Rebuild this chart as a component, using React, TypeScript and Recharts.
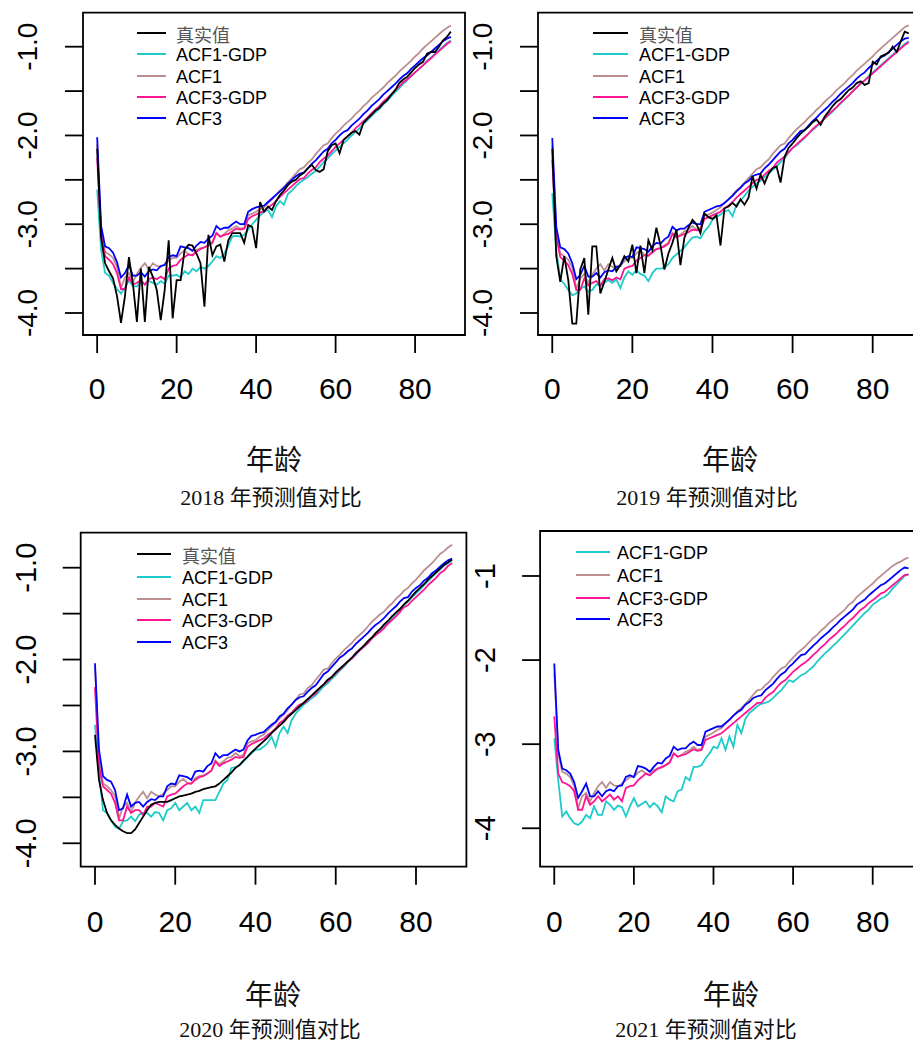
import React from 'react';
import { LineChart, Line, XAxis, YAxis, ReferenceArea } from 'recharts';

// ages 0..89
const ages = [
  0, 1, 2, 3, 4, 5, 6, 7, 8, 9, 10, 11, 12, 13, 14, 15, 16, 17, 18, 19,
  20, 21, 22, 23, 24, 25, 26, 27, 28, 29, 30, 31, 32, 33, 34, 35, 36, 37, 38, 39,
  40, 41, 42, 43, 44, 45, 46, 47, 48, 49, 50, 51, 52, 53, 54, 55, 56, 57, 58, 59,
  60, 61, 62, 63, 64, 65, 66, 67, 68, 69, 70, 71, 72, 73, 74, 75, 76, 77, 78, 79,
  80, 81, 82, 83, 84, 85, 86, 87, 88, 89,
];
const xTicks = [0, 20, 40, 60, 80];

// ---- 2018 ----
const truth2018 = [
  -2.15, -3.15, -3.44, -3.53, -3.61, -3.81, -4.11, -3.81, -3.37, -3.67,
  -4.10, -3.50, -4.10, -3.48, -3.59, -3.74, -4.08, -3.74, -3.18, -4.06,
  -3.63, -3.63, -3.29, -3.23, -3.24, -3.33, -3.44, -3.93, -3.12, -3.35,
  -3.25, -3.23, -3.42, -3.18, -3.10, -3.10, -3.10, -3.21, -3.01, -3.03,
  -3.27, -2.75, -2.86, -2.80, -2.84, -2.74, -2.67, -2.62, -2.56, -2.52,
  -2.50, -2.45, -2.42, -2.37, -2.33, -2.39, -2.41, -2.38, -2.18, -2.11,
  -2.09, -2.20, -2.05, -2.01, -1.97, -1.95, -1.99, -1.86, -1.81, -1.77,
  -1.72, -1.69, -1.64, -1.60, -1.54, -1.49, -1.41, -1.37, -1.34, -1.29,
  -1.24, -1.20, -1.17, -1.08, -1.06, -1.06, -1.00, -0.93, -0.89, -0.83,
];
const acf1gdp2018 = [
  -2.61, -3.29, -3.55, -3.58, -3.66, -3.73, -3.78, -3.72, -3.63, -3.70,
  -3.70, -3.64, -3.68, -3.64, -3.66, -3.68, -3.64, -3.67, -3.58, -3.58,
  -3.57, -3.60, -3.53, -3.56, -3.50, -3.53, -3.48, -3.50, -3.47, -3.42,
  -3.36, -3.38, -3.33, -3.24, -3.14, -3.13, -3.14, -3.12, -3.06, -3.00,
  -2.95, -2.90, -2.86, -2.84, -2.92, -2.80, -2.74, -2.78, -2.66, -2.62,
  -2.57, -2.53, -2.50, -2.47, -2.43, -2.40, -2.35, -2.30, -2.26, -2.21,
  -2.17, -2.13, -2.09, -2.05, -2.00, -1.96, -1.92, -1.87, -1.83, -1.78,
  -1.74, -1.70, -1.65, -1.61, -1.56, -1.51, -1.47, -1.42, -1.38, -1.33,
  -1.29, -1.25, -1.21, -1.16, -1.12, -1.08, -1.04, -1.00, -0.96, -0.93,
];
const acf12018 = [
  -2.10, -3.07, -3.31, -3.34, -3.38, -3.48, -3.72, -3.60, -3.55, -3.65,
  -3.56, -3.49, -3.44, -3.51, -3.44, -3.47, -3.48, -3.45, -3.41, -3.38,
  -3.38, -3.33, -3.30, -3.34, -3.35, -3.29, -3.27, -3.26, -3.23, -3.20,
  -3.10, -3.14, -3.11, -3.07, -3.05, -3.02, -3.05, -3.04, -2.90, -2.88,
  -2.86, -2.83, -2.81, -2.76, -2.72, -2.67, -2.62, -2.58, -2.53, -2.48,
  -2.43, -2.38, -2.36, -2.31, -2.27, -2.21, -2.16, -2.11, -2.09, -2.03,
  -1.98, -1.94, -1.89, -1.85, -1.81, -1.76, -1.72, -1.67, -1.63, -1.58,
  -1.54, -1.50, -1.46, -1.41, -1.37, -1.33, -1.28, -1.24, -1.20, -1.16,
  -1.11, -1.07, -1.02, -0.98, -0.94, -0.90, -0.86, -0.82, -0.79, -0.76,
];
const acf3gdp2018 = [
  -2.25, -3.12, -3.36, -3.40, -3.45, -3.55, -3.73, -3.73, -3.60, -3.68,
  -3.66, -3.63, -3.68, -3.62, -3.60, -3.62, -3.59, -3.62, -3.50, -3.47,
  -3.46, -3.40, -3.37, -3.34, -3.35, -3.31, -3.28, -3.26, -3.24, -3.21,
  -3.10, -3.14, -3.12, -3.11, -3.08, -3.05, -3.06, -3.05, -2.94, -2.91,
  -2.89, -2.87, -2.85, -2.81, -2.78, -2.74, -2.69, -2.65, -2.61, -2.57,
  -2.53, -2.49, -2.48, -2.43, -2.39, -2.36, -2.30, -2.26, -2.23, -2.18,
  -2.13, -2.09, -2.05, -2.01, -1.97, -1.92, -1.88, -1.84, -1.80, -1.75,
  -1.71, -1.67, -1.62, -1.58, -1.54, -1.49, -1.45, -1.40, -1.37, -1.33,
  -1.29, -1.25, -1.21, -1.17, -1.13, -1.09, -1.05, -1.01, -0.97, -0.94,
];
const acf32018 = [
  -2.02, -3.02, -3.25, -3.27, -3.32, -3.43, -3.60, -3.55, -3.46, -3.58,
  -3.58, -3.54, -3.59, -3.53, -3.51, -3.52, -3.47, -3.46, -3.37, -3.35,
  -3.36, -3.25, -3.26, -3.27, -3.30, -3.24, -3.20, -3.21, -3.16, -3.13,
  -3.02, -3.06, -3.04, -3.04, -3.00, -2.97, -3.00, -3.00, -2.86, -2.83,
  -2.81, -2.80, -2.79, -2.75, -2.71, -2.67, -2.63, -2.59, -2.54, -2.50,
  -2.46, -2.43, -2.42, -2.37, -2.32, -2.28, -2.23, -2.18, -2.15, -2.09,
  -2.05, -2.00, -1.96, -1.94, -1.89, -1.85, -1.81, -1.76, -1.72, -1.67,
  -1.63, -1.59, -1.54, -1.50, -1.46, -1.42, -1.37, -1.33, -1.30, -1.25,
  -1.21, -1.17, -1.13, -1.10, -1.06, -1.02, -0.98, -0.94, -0.91, -0.89,
];

// ---- 2019 ----
const truth2019 = [
  -2.15, -3.36, -3.65, -3.36, -3.63, -4.12, -4.12, -3.51, -3.38, -4.02,
  -3.25, -3.25, -3.78, -3.65, -3.51, -3.38, -3.53, -3.46, -3.36, -3.42,
  -3.23, -3.55, -3.24, -3.55, -3.18, -3.29, -3.04, -3.23, -3.51, -3.33,
  -3.21, -3.06, -3.46, -3.15, -3.04, -2.95, -3.00, -3.10, -2.88, -2.92,
  -2.94, -2.90, -3.24, -2.82, -2.80, -2.76, -2.80, -2.72, -2.78, -2.70,
  -2.46, -2.60, -2.44, -2.54, -2.43, -2.37, -2.35, -2.53, -2.24, -2.14,
  -2.09, -2.03, -1.98, -1.94, -1.90, -1.85, -1.82, -1.88, -1.79, -1.73,
  -1.67, -1.62, -1.59, -1.54, -1.49, -1.46, -1.41, -1.39, -1.43, -1.41,
  -1.17, -1.20, -1.11, -1.09, -1.07, -1.00, -1.06, -0.94, -0.83, -0.85,
];
const acf1gdp2019 = [
  -2.65, -3.29, -3.62, -3.67, -3.74, -3.80, -3.78, -3.73, -3.70, -3.76,
  -3.74, -3.68, -3.69, -3.66, -3.63, -3.66, -3.62, -3.72, -3.60, -3.53,
  -3.57, -3.52, -3.56, -3.58, -3.64, -3.55, -3.50, -3.50, -3.49, -3.45,
  -3.38, -3.34, -3.30, -3.26, -3.20, -3.15, -3.14, -3.16, -3.08, -3.03,
  -2.95, -2.92, -2.89, -2.86, -2.84, -2.91, -2.78, -2.73, -2.68, -2.62,
  -2.58, -2.54, -2.51, -2.47, -2.43, -2.39, -2.35, -2.30, -2.26, -2.19,
  -2.14, -2.11, -2.07, -2.03, -1.98, -1.94, -1.90, -1.86, -1.81, -1.77,
  -1.73, -1.68, -1.64, -1.60, -1.55, -1.51, -1.46, -1.42, -1.38, -1.33,
  -1.29, -1.25, -1.21, -1.17, -1.13, -1.09, -1.05, -1.01, -0.97, -0.94,
];
const acf12019 = [
  -2.11, -3.08, -3.33, -3.36, -3.40, -3.49, -3.73, -3.61, -3.56, -3.66,
  -3.57, -3.50, -3.45, -3.52, -3.45, -3.48, -3.49, -3.46, -3.42, -3.38,
  -3.38, -3.33, -3.30, -3.34, -3.36, -3.30, -3.28, -3.27, -3.24, -3.21,
  -3.10, -3.14, -3.12, -3.08, -3.06, -3.02, -3.06, -3.04, -2.90, -2.89,
  -2.87, -2.84, -2.81, -2.76, -2.72, -2.67, -2.62, -2.58, -2.53, -2.48,
  -2.43, -2.38, -2.36, -2.31, -2.27, -2.21, -2.16, -2.11, -2.09, -2.03,
  -1.98, -1.93, -1.89, -1.85, -1.80, -1.76, -1.71, -1.67, -1.62, -1.58,
  -1.54, -1.49, -1.45, -1.41, -1.36, -1.32, -1.27, -1.23, -1.19, -1.15,
  -1.11, -1.06, -1.02, -0.98, -0.94, -0.90, -0.86, -0.82, -0.78, -0.76,
];
const acf3gdp2019 = [
  -2.27, -3.14, -3.37, -3.41, -3.46, -3.56, -3.74, -3.74, -3.61, -3.69,
  -3.66, -3.64, -3.69, -3.62, -3.61, -3.63, -3.60, -3.62, -3.50, -3.48,
  -3.47, -3.41, -3.38, -3.35, -3.35, -3.32, -3.28, -3.27, -3.25, -3.22,
  -3.11, -3.15, -3.13, -3.11, -3.09, -3.06, -3.07, -3.06, -2.94, -2.92,
  -2.90, -2.88, -2.86, -2.82, -2.79, -2.75, -2.70, -2.66, -2.62, -2.58,
  -2.54, -2.50, -2.49, -2.44, -2.40, -2.37, -2.31, -2.27, -2.24, -2.19,
  -2.14, -2.10, -2.06, -2.02, -1.98, -1.93, -1.89, -1.85, -1.81, -1.76,
  -1.72, -1.68, -1.63, -1.59, -1.55, -1.50, -1.46, -1.41, -1.38, -1.34,
  -1.30, -1.26, -1.22, -1.18, -1.14, -1.10, -1.06, -1.02, -0.98, -0.95,
];
const acf32019 = [
  -2.03, -3.03, -3.26, -3.28, -3.33, -3.44, -3.62, -3.57, -3.47, -3.59,
  -3.59, -3.55, -3.60, -3.54, -3.52, -3.53, -3.48, -3.47, -3.38, -3.36,
  -3.37, -3.26, -3.27, -3.28, -3.31, -3.25, -3.21, -3.22, -3.17, -3.14,
  -3.03, -3.07, -3.05, -3.05, -3.01, -2.98, -3.00, -3.00, -2.86, -2.84,
  -2.82, -2.80, -2.79, -2.76, -2.72, -2.68, -2.63, -2.59, -2.54, -2.51,
  -2.46, -2.44, -2.43, -2.37, -2.33, -2.28, -2.23, -2.18, -2.15, -2.09,
  -2.05, -2.00, -1.95, -1.94, -1.89, -1.84, -1.80, -1.75, -1.71, -1.67,
  -1.62, -1.58, -1.53, -1.49, -1.45, -1.41, -1.36, -1.32, -1.29, -1.24,
  -1.20, -1.16, -1.12, -1.10, -1.06, -1.02, -0.98, -0.94, -0.91, -0.90,
];

// ---- 2020 ----
const truth2020 = [
  -2.82, -3.31, -3.53, -3.67, -3.75, -3.80, -3.84, -3.87, -3.89, -3.89,
  -3.85, -3.78, -3.71, -3.64, -3.58, -3.56, -3.55, -3.55, -3.55, -3.53,
  -3.51, -3.49, -3.48, -3.47, -3.46, -3.44, -3.43, -3.41, -3.40, -3.39,
  -3.38, -3.35, -3.31, -3.27, -3.23, -3.18, -3.15, -3.10, -3.06, -3.01,
  -2.97, -2.93, -2.89, -2.85, -2.80, -2.76, -2.72, -2.68, -2.63, -2.59,
  -2.55, -2.51, -2.47, -2.43, -2.39, -2.35, -2.31, -2.27, -2.22, -2.19,
  -2.14, -2.10, -2.06, -2.02, -1.98, -1.93, -1.89, -1.85, -1.80, -1.76,
  -1.71, -1.67, -1.62, -1.58, -1.53, -1.49, -1.45, -1.40, -1.36, -1.31,
  -1.26, -1.22, -1.18, -1.13, -1.09, -1.05, -1.01, -0.97, -0.94, -0.91,
];
const acf1gdp2020 = [
  -2.71, -3.24, -3.64, -3.67, -3.75, -3.82, -3.84, -3.76, -3.75, -3.71,
  -3.76, -3.69, -3.67, -3.67, -3.71, -3.66, -3.67, -3.75, -3.64, -3.62,
  -3.56, -3.64, -3.60, -3.56, -3.64, -3.60, -3.67, -3.53, -3.53, -3.53,
  -3.53, -3.44, -3.35, -3.31, -3.18, -3.17, -3.15, -3.11, -3.06, -3.02,
  -2.98, -2.98, -2.95, -2.91, -2.84, -2.95, -2.80, -2.73, -2.80, -2.66,
  -2.59, -2.54, -2.49, -2.46, -2.42, -2.39, -2.34, -2.29, -2.26, -2.21,
  -2.17, -2.12, -2.08, -2.03, -1.99, -1.95, -1.90, -1.86, -1.82, -1.77,
  -1.73, -1.69, -1.64, -1.60, -1.55, -1.50, -1.45, -1.41, -1.37, -1.32,
  -1.28, -1.24, -1.19, -1.15, -1.10, -1.06, -1.02, -0.98, -0.95, -0.92,
];
const acf12020 = [
  -2.08, -3.09, -3.35, -3.38, -3.42, -3.49, -3.73, -3.60, -3.56, -3.66,
  -3.56, -3.49, -3.44, -3.51, -3.44, -3.47, -3.49, -3.46, -3.42, -3.38,
  -3.38, -3.33, -3.30, -3.34, -3.35, -3.29, -3.27, -3.26, -3.24, -3.21,
  -3.10, -3.14, -3.11, -3.07, -3.06, -3.02, -3.05, -3.04, -2.91, -2.89,
  -2.88, -2.84, -2.82, -2.77, -2.73, -2.69, -2.64, -2.60, -2.55, -2.49,
  -2.44, -2.38, -2.37, -2.31, -2.28, -2.22, -2.17, -2.11, -2.10, -2.04,
  -1.99, -1.95, -1.90, -1.86, -1.82, -1.77, -1.73, -1.69, -1.64, -1.59,
  -1.55, -1.51, -1.48, -1.43, -1.39, -1.34, -1.30, -1.25, -1.22, -1.17,
  -1.13, -1.08, -1.03, -0.99, -0.95, -0.90, -0.85, -0.82, -0.78, -0.75,
];
const acf3gdp2020 = [
  -2.30, -3.17, -3.38, -3.42, -3.46, -3.56, -3.75, -3.75, -3.60, -3.67,
  -3.64, -3.64, -3.69, -3.60, -3.60, -3.56, -3.58, -3.60, -3.49, -3.47,
  -3.46, -3.42, -3.38, -3.35, -3.35, -3.31, -3.28, -3.27, -3.24, -3.21,
  -3.11, -3.16, -3.13, -3.11, -3.09, -3.06, -3.07, -3.06, -2.95, -2.92,
  -2.90, -2.88, -2.86, -2.82, -2.79, -2.75, -2.69, -2.66, -2.61, -2.58,
  -2.53, -2.49, -2.48, -2.44, -2.40, -2.37, -2.31, -2.27, -2.24, -2.19,
  -2.15, -2.11, -2.07, -2.02, -1.99, -1.94, -1.90, -1.86, -1.82, -1.77,
  -1.73, -1.70, -1.66, -1.61, -1.57, -1.53, -1.48, -1.43, -1.41, -1.36,
  -1.32, -1.28, -1.24, -1.19, -1.15, -1.11, -1.06, -1.03, -0.98, -0.95,
];
const acf32020 = [
  -2.04, -2.98, -3.27, -3.31, -3.33, -3.42, -3.64, -3.62, -3.47, -3.60,
  -3.56, -3.55, -3.60, -3.55, -3.52, -3.53, -3.49, -3.49, -3.38, -3.35,
  -3.36, -3.26, -3.27, -3.28, -3.31, -3.22, -3.21, -3.22, -3.16, -3.13,
  -3.02, -3.07, -3.04, -3.04, -3.01, -2.98, -3.00, -2.98, -2.88, -2.83,
  -2.82, -2.80, -2.79, -2.75, -2.71, -2.68, -2.62, -2.59, -2.53, -2.49,
  -2.44, -2.41, -2.40, -2.35, -2.31, -2.28, -2.22, -2.16, -2.13, -2.08,
  -2.03, -1.98, -1.95, -1.91, -1.88, -1.83, -1.79, -1.75, -1.71, -1.66,
  -1.62, -1.59, -1.55, -1.50, -1.46, -1.42, -1.37, -1.33, -1.32, -1.26,
  -1.22, -1.19, -1.14, -1.11, -1.06, -1.03, -0.99, -0.95, -0.92, -0.90,
];

// ---- 2021 (no observed values) ----
const acf1gdp2021 = [
  -2.93, -3.43, -3.86, -3.80, -3.88, -3.94, -3.96, -3.92, -3.84, -3.88,
  -3.74, -3.84, -3.84, -3.68, -3.72, -3.78, -3.73, -3.75, -3.86, -3.74,
  -3.64, -3.74, -3.71, -3.68, -3.75, -3.70, -3.74, -3.81, -3.62, -3.66,
  -3.68, -3.56, -3.54, -3.39, -3.43, -3.27, -3.27, -3.25, -3.17, -3.11,
  -3.03, -3.05, -2.93, -3.07, -2.91, -3.03, -2.77, -2.87, -2.70, -2.63,
  -2.59, -2.55, -2.52, -2.51, -2.49, -2.45, -2.40, -2.36, -2.30, -2.24,
  -2.26, -2.22, -2.18, -2.16, -2.12, -2.08, -2.02, -1.97, -1.92, -1.88,
  -1.83, -1.79, -1.74, -1.69, -1.64, -1.59, -1.54, -1.49, -1.44, -1.40,
  -1.34, -1.31, -1.27, -1.25, -1.21, -1.15, -1.10, -1.05, -1.00, -0.98,
];
const acf12021 = [
  -2.15, -3.11, -3.33, -3.35, -3.39, -3.50, -3.76, -3.62, -3.58, -3.68,
  -3.58, -3.50, -3.45, -3.52, -3.45, -3.49, -3.50, -3.47, -3.43, -3.39,
  -3.39, -3.34, -3.31, -3.35, -3.37, -3.31, -3.29, -3.28, -3.25, -3.21,
  -3.11, -3.15, -3.13, -3.09, -3.07, -3.03, -3.07, -3.05, -2.91, -2.89,
  -2.86, -2.83, -2.81, -2.76, -2.71, -2.66, -2.61, -2.57, -2.52, -2.47,
  -2.41, -2.36, -2.35, -2.30, -2.26, -2.20, -2.15, -2.10, -2.08, -2.02,
  -1.97, -1.92, -1.88, -1.84, -1.79, -1.74, -1.70, -1.65, -1.61, -1.56,
  -1.52, -1.48, -1.44, -1.40, -1.34, -1.31, -1.25, -1.21, -1.17, -1.13,
  -1.09, -1.04, -1.00, -0.96, -0.92, -0.88, -0.85, -0.83, -0.80, -0.78,
];
const acf3gdp2021 = [
  -2.67, -3.35, -3.45, -3.47, -3.50, -3.56, -3.78, -3.78, -3.62, -3.72,
  -3.68, -3.62, -3.68, -3.64, -3.60, -3.66, -3.62, -3.68, -3.52, -3.50,
  -3.49, -3.43, -3.39, -3.35, -3.37, -3.33, -3.29, -3.27, -3.25, -3.22,
  -3.11, -3.15, -3.13, -3.12, -3.09, -3.06, -3.08, -3.07, -2.95, -2.93,
  -2.91, -2.89, -2.87, -2.83, -2.79, -2.75, -2.71, -2.67, -2.63, -2.59,
  -2.55, -2.51, -2.51, -2.45, -2.41, -2.38, -2.32, -2.27, -2.24, -2.19,
  -2.14, -2.10, -2.06, -2.03, -1.99, -1.94, -1.90, -1.85, -1.81, -1.76,
  -1.72, -1.68, -1.63, -1.59, -1.54, -1.50, -1.45, -1.40, -1.37, -1.32,
  -1.29, -1.25, -1.21, -1.19, -1.15, -1.11, -1.07, -1.03, -0.99, -0.98,
];
const acf32021 = [
  -2.04, -3.07, -3.29, -3.31, -3.35, -3.45, -3.64, -3.56, -3.47, -3.62,
  -3.62, -3.56, -3.62, -3.56, -3.54, -3.56, -3.50, -3.49, -3.39, -3.37,
  -3.39, -3.26, -3.27, -3.29, -3.33, -3.27, -3.22, -3.23, -3.17, -3.14,
  -3.03, -3.07, -3.05, -3.05, -3.00, -2.97, -3.01, -3.01, -2.85, -2.83,
  -2.81, -2.79, -2.79, -2.75, -2.71, -2.66, -2.62, -2.59, -2.53, -2.50,
  -2.45, -2.43, -2.42, -2.36, -2.32, -2.28, -2.22, -2.17, -2.14, -2.08,
  -2.04, -1.99, -1.94, -1.93, -1.88, -1.83, -1.79, -1.74, -1.70, -1.66,
  -1.61, -1.57, -1.52, -1.48, -1.44, -1.40, -1.34, -1.31, -1.28, -1.23,
  -1.19, -1.15, -1.11, -1.09, -1.05, -1.01, -0.97, -0.93, -0.90, -0.91,
];

const SANS = "'Liberation Sans', Arial, sans-serif";
const CJK = "'Noto Sans CJK SC', sans-serif";
const SERIF = "'Liberation Serif', 'Noto Sans CJK SC', serif";

const COLORS = {
  truth: '#000000',
  acf1gdp: '#1ECBCB',
  acf1: '#BC8F8F',
  acf3gdp: '#FF1493',
  acf3: '#0000FF',
};

const X_DOMAIN: [number, number] = [-3.56, 92.56];

function XTick(props: any) {
  const { x, y, payload, off } = props;
  return (
    <g>
      <line x1={x} x2={x} y1={y} y2={y + 18} stroke="#000" strokeWidth={1.8} />
      <text x={x} y={y + off} textAnchor="middle" dominantBaseline="central" fontSize={30} fontFamily={SANS} fill="#000">
        {payload.value}
      </text>
    </g>
  );
}

function YTick(props: any) {
  const { x, y, payload, fmt, fontSize } = props;
  const v = payload.value;
  const cx = x - 55;
  return (
    <g>
      <line x1={x - 18} x2={x} y1={y} y2={y} stroke="#000" strokeWidth={1.8} />
      {Number.isInteger(v) && (
        <text x={cx} y={y} transform={`rotate(-90 ${cx} ${y})`} textAnchor="middle" dominantBaseline="central" fontSize={fontSize} fontFamily={SANS} fill="#000">
          {fmt(v)}
        </text>
      )}
    </g>
  );
}

type S = { key: string; values: number[]; color: string };

function Panel(props: any) {
  const { left, top, width, height, margin, yDomain, yTicks, yFmt, yFont, series, xOff } = props;
  const data = ages.map((age, i) => {
    const row: any = { age };
    series.forEach((s: S) => { row[s.key] = s.values[i]; });
    return row;
  });
  // axes get 1px of room so they are rendered; margins are reduced by the same amount
  const m = { ...margin, left: margin.left - 1, bottom: margin.bottom - 1 };
  return (
    <div style={{ position: 'absolute', left, top }}>
      <LineChart width={width} height={height} data={data} margin={m}>
        <XAxis dataKey="age" type="number" domain={X_DOMAIN} ticks={xTicks} allowDataOverflow height={1}
          axisLine={false} tickLine={false} tickSize={0} tickMargin={0} interval={0}
          tick={(p: any) => <XTick {...p} off={xOff} />} />
        <YAxis type="number" domain={yDomain} ticks={yTicks} allowDataOverflow width={1}
          axisLine={false} tickLine={false} tickSize={0} tickMargin={0} interval={0}
          tick={(p: any) => <YTick {...p} fmt={yFmt} fontSize={yFont} />} />
        {series.map((s: S) => (
          <Line key={s.key} dataKey={s.key} type="linear" stroke={s.color} strokeWidth={1.8}
            dot={false} activeDot={false} isAnimationActive={false} />
        ))}
        <ReferenceArea x1={X_DOMAIN[0]} x2={X_DOMAIN[1]} y1={yDomain[0]} y2={yDomain[1]}
          fill="none" stroke="#000" strokeWidth={1.8} ifOverflow="visible" />
      </LineChart>
    </div>
  );
}

function LegendBox(props: any) {
  const { items, x0, x1, tx, ys } = props;
  return (
    <>
      {items.map((it: any, i: number) => (
        <React.Fragment key={it.label}>
          <div style={{ position: 'absolute', left: x0, top: ys[i] - 1, width: x1 - x0, height: 2, background: it.color }} />
          <div style={{
            position: 'absolute', left: tx, top: ys[i] - 8, height: 18,
            fontSize: 18, lineHeight: '18px', whiteSpace: 'nowrap', overflow: 'visible',
            fontFamily: it.cjk ? CJK : SANS, color: it.cjk ? '#555' : '#000',
          }}>{it.label}</div>
        </React.Fragment>
      ))}
    </>
  );
}

function Caption(props: any) {
  const { x, y, text, size, font } = props;
  return (
    <div style={{
      position: 'absolute', left: x, top: y, transform: 'translate(-50%, -50%)',
      fontSize: size, fontFamily: font, lineHeight: 1, whiteSpace: 'nowrap', color: '#111',
    }}>{text}</div>
  );
}

const legendFull = [
  { label: '真实值', color: COLORS.truth, cjk: true },
  { label: 'ACF1-GDP', color: COLORS.acf1gdp },
  { label: 'ACF1', color: COLORS.acf1 },
  { label: 'ACF3-GDP', color: COLORS.acf3gdp },
  { label: 'ACF3', color: COLORS.acf3 },
];
const legendShort = legendFull.slice(1);

const fmt1 = (v: number) => v.toFixed(1);
const fmt0 = (v: number) => String(v);
const halfTicks = [-4, -3.5, -3, -2.5, -2, -1.5, -1];

function mk(truth: number[] | null, a1g: number[], a1: number[], a3g: number[], a3: number[]): S[] {
  const s: S[] = [
    { key: 'a1g', values: a1g, color: COLORS.acf1gdp },
    { key: 'a1', values: a1, color: COLORS.acf1 },
    { key: 'a3g', values: a3g, color: COLORS.acf3gdp },
    { key: 'a3', values: a3, color: COLORS.acf3 },
  ];
  if (truth) s.push({ key: 'truth', values: truth, color: COLORS.truth });
  return s;
}

export default function App() {
  return (
    <div style={{ position: 'absolute', left: 0, top: 0, width: 913, height: 1043, overflow: 'hidden', background: '#fff' }}>
      <Panel left={0} top={0} width={470} height={420}
        margin={{ top: 12.7, right: 5, bottom: 85, left: 83 }}
        yDomain={[-4.248, -0.617]} yTicks={halfTicks} yFmt={fmt1} yFont={28} xOff={53}
        series={mk(truth2018, acf1gdp2018, acf12018, acf3gdp2018, acf32018)} />
      <Panel left={455} top={0} width={475} height={420}
        margin={{ top: 12.7, right: 7, bottom: 85, left: 83 }}
        yDomain={[-4.248, -0.617]} yTicks={halfTicks} yFmt={fmt1} yFont={28} xOff={53}
        series={mk(truth2019, acf1gdp2019, acf12019, acf3gdp2019, acf32019)} />
      <Panel left={0} top={520} width={470} height={420}
        margin={{ top: 12.7, right: 3.6, bottom: 73.3, left: 80.7 }}
        yDomain={[-4.255, -0.619]} yTicks={halfTicks} yFmt={fmt1} yFont={29} xOff={55}
        series={mk(truth2020, acf1gdp2020, acf12020, acf3gdp2020, acf32020)} />
      <Panel left={455} top={520} width={475} height={420}
        margin={{ top: 11, right: 7.3, bottom: 73.3, left: 85.1 }}
        yDomain={[-4.457, -0.465]} yTicks={[-4, -3, -2, -1]} yFmt={fmt0} yFont={29} xOff={55}
        series={mk(null, acf1gdp2021, acf12021, acf3gdp2021, acf32021)} />

      <LegendBox items={legendFull} x0={137} x1={166} tx={176} ys={[33.3, 54.3, 76, 96.7, 117.7]} />
      <LegendBox items={legendFull} x0={593} x1={628} tx={639} ys={[33.3, 54.3, 76, 96.7, 117.7]} />
      <LegendBox items={legendFull} x0={137} x1={171} tx={182} ys={[554.3, 576.7, 598.7, 620.3, 641.7]} />
      <LegendBox items={legendShort} x0={576} x1={610} tx={617} ys={[552.3, 575, 597.7, 619]} />

      <Caption x={274} y={458} text="年龄" size={28} font={CJK} />
      <Caption x={730} y={458} text="年龄" size={28} font={CJK} />
      <Caption x={273} y={993} text="年龄" size={28} font={CJK} />
      <Caption x={731} y={993} text="年龄" size={28} font={CJK} />

      <Caption x={271} y={498} text="2018 年预测值对比" size={22} font={SERIF} />
      <Caption x={707} y={498} text="2019 年预测值对比" size={22} font={SERIF} />
      <Caption x={270} y={1030} text="2020 年预测值对比" size={22} font={SERIF} />
      <Caption x={706} y={1030} text="2021 年预测值对比" size={22} font={SERIF} />
    </div>
  );
}
